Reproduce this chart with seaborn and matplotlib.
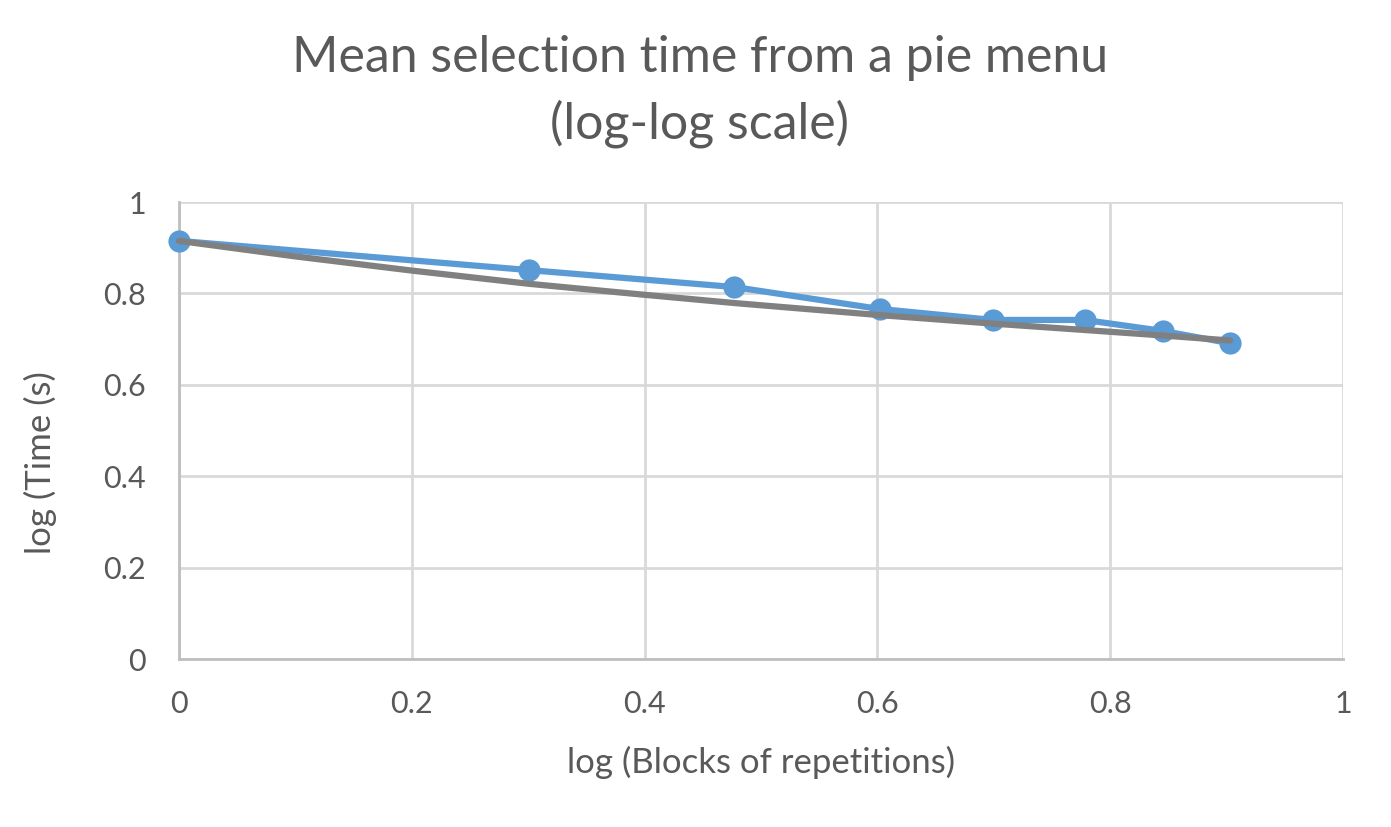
import pandas as pd
import matplotlib.pyplot as plt
import seaborn as sns

# log10 of block number 1..8 and log10 of mean time
log_blocks = [0, 0.301, 0.477, 0.602, 0.699, 0.778, 0.845, 0.903]
log_time = [0.915, 0.851, 0.814, 0.766, 0.742, 0.742, 0.718, 0.691]

# trend line
trend_x = [0, 0.1, 0.2, 0.301, 0.4, 0.477, 0.6, 0.699, 0.778, 0.845, 0.903]
trend_y = [0.915, 0.881, 0.850, 0.821, 0.797, 0.779, 0.753, 0.734, 0.720, 0.708, 0.697]

df = pd.DataFrame({"x": log_blocks, "y": log_time})
trend = pd.DataFrame({"x": trend_x, "y": trend_y})

sns.set_style("white")
plt.rcParams['font.family'] = ['Lato', 'DejaVu Sans']
text_col = "#595959"

fig = plt.figure(figsize=(13.91, 8.27), dpi=100)
ax = fig.add_axes([0.1287, 0.2031, 0.9655 - 0.1287, 0.7557 - 0.2031])

sns.lineplot(data=df, x="x", y="y", ax=ax, color="#5B9BD5", linewidth=4.5,
             marker="o", markersize=16, markeredgewidth=0, zorder=3, clip_on=False)
sns.lineplot(data=trend, x="x", y="y", ax=ax, color="#808080", linewidth=4.5,
             zorder=4, clip_on=False)

ax.set_xlim(0, 1)
ax.set_ylim(0, 1)
ax.set_xticks([0, 0.2, 0.4, 0.6, 0.8, 1])
ax.set_yticks([0, 0.2, 0.4, 0.6, 0.8, 1])
ax.set_xticklabels(["0", "0.2", "0.4", "0.6", "0.8", "1"])
ax.set_yticklabels(["0", "0.2", "0.4", "0.6", "0.8", "1"])
ax.grid(True, color="#D9D9D9", linewidth=2)
ax.set_axisbelow(True)
for s in ["top", "right"]:
    ax.spines[s].set_visible(False)
for s in ["left", "bottom"]:
    ax.spines[s].set_color("#BFBFBF")
    ax.spines[s].set_linewidth(2)
ax.tick_params(axis="y", length=0, labelsize=22, colors=text_col, pad=24)
ax.tick_params(axis="x", length=0, labelsize=22, colors=text_col, pad=22)

ax.set_xlabel("log (Blocks of repetitions)", fontsize=25, color=text_col)
ax.set_ylabel("log (Time (s)", fontsize=25, color=text_col)
ax.xaxis.set_label_coords(0.5, -0.19)
ax.yaxis.set_label_coords(-0.105, 0.43)

fig.text(0.503, 1 - 72 / 827, "Mean selection time from a pie menu", fontsize=36,
         color=text_col, ha="center", va="baseline")
fig.text(0.503, 1 - 138 / 827, "(log-log scale)", fontsize=36,
         color=text_col, ha="center", va="baseline")

fig.savefig("out.png", dpi=100)
